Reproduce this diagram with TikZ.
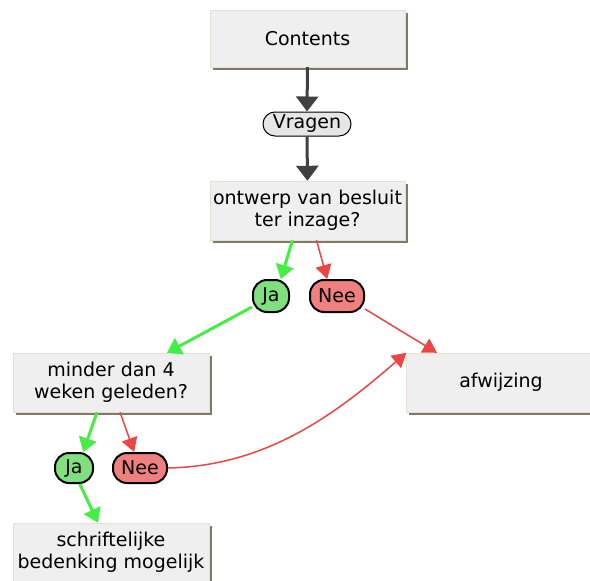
\documentclass[tikz,border=0pt]{standalone}
\usepackage{fontspec}
\setmainfont{DejaVu Sans}
\usetikzlibrary{arrows.meta, shadows}
\definecolor{vakGrijs}{HTML}{EFEFEF}
\definecolor{vakRand}{HTML}{E4E0D4}
\definecolor{vakSchaduw}{HTML}{807868}
\definecolor{pijlGrijs}{HTML}{404040}
\definecolor{jaGroen}{HTML}{44EE44}
\definecolor{jaVul}{HTML}{80E080}
\definecolor{neeRood}{HTML}{EE4444}
\definecolor{neeVul}{HTML}{F08080}
\definecolor{vraagVul}{HTML}{E6E6E6}

\begin{document}
\begin{tikzpicture}[x=1pt, y=-1pt,
	every node/.style={font=\fontsize{19}{22}\selectfont},
	vak/.style={draw=vakRand, fill=vakGrijs, align=center, inner sep=0pt,
		drop shadow={shadow xshift=2.5pt, shadow yshift=-2.5pt, fill=vakSchaduw, opacity=1}},
	knop/.style={draw=black, inner sep=1pt},
	grijs/.style={pijlGrijs, line width=3pt, -{Triangle[width=22pt, length=15pt]}},
	ja/.style={jaGroen, line width=3pt, -{Triangle[width=18pt, length=14pt]}},
	nee/.style={neeRood, line width=1.5pt, -{Triangle[width=16pt, length=14pt]}}]
		\useasboundingbox[fill=white] (0,0) rectangle (590,581);
		% vakken
		\node[vak, minimum width=195pt, minimum height=57pt] (contents) at (307.5,38.5) {Contents};
		\node[vak, minimum width=195pt, minimum height=59pt] (ontwerp) at (307.5,210.5) {ontwerp van besluit\\ter inzage?};
		\node[vak, minimum width=196pt, minimum height=59pt] (minder) at (111,382.5) {minder dan 4\\weken geleden?};
		\node[vak, minimum width=189pt, minimum height=59pt] (afwijzing) at (501,382.5) {afwijzing};
		\node[vak, minimum width=196pt, minimum height=59pt] (schrift) at (111,552.5) {schriftelijke\\bedenking mogelijk};
		\node[knop, fill=vraagVul, line width=1pt, minimum width=88pt, minimum height=24pt, rounded corners=12pt] (vragen) at (307,124) {Vragen};
		% ja / nee
		\foreach \px/\py/\bw/\bh/\naam/\kleur/\tekst in {
			271/296/36/32/ja1/jaVul/Ja,
			337/296/54/32/nee1/neeVul/Nee,
			74/468/38/30/ja2/jaVul/Ja,
			140/468/54/30/nee2/neeVul/Nee
		}{
			\node[knop, fill=\kleur, line width=2pt, rounded corners=14pt, minimum width=\bw pt, minimum height=\bh pt] (\naam) at (\px,\py) {\tekst};
		}
		% pijlen
		\draw[grijs] (contents.south) -- (vragen.north);
		\draw[grijs] (vragen.south) -- (ontwerp.north);
		\draw[ja] ([xshift=-15pt]ontwerp.south) -- (ja1.60);
		\draw[nee] ([xshift=9pt]ontwerp.south) -- (nee1.120);
		\draw[ja] (ja1.210) -- ([xshift=56pt]minder.north);
		\draw[nee] (nee1.-25) -- ([xshift=-64pt]afwijzing.north);
		\draw[ja] ([xshift=-14pt]minder.south) -- (ja2.60);
		\draw[nee] ([xshift=9pt]minder.south) -- (nee2.110);
		\draw[ja] (ja2.-70) -- ([xshift=-13pt]schrift.north);
		\draw[nee] (nee2.east) .. controls (270,466) and (340,410) .. (afwijzing.north west);
	\end{tikzpicture}
\end{document}
